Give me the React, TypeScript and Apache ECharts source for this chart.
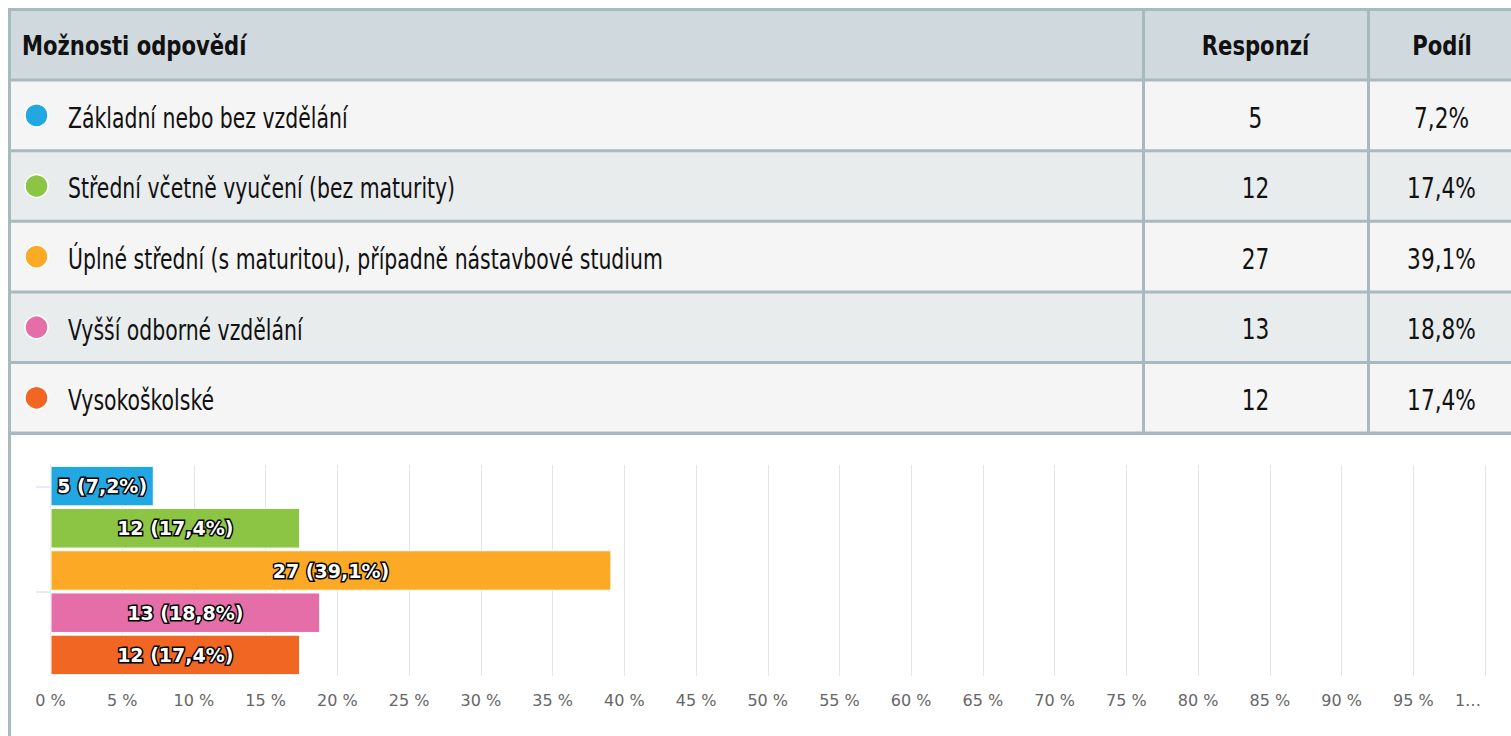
import React, { useEffect, useRef } from "react";
import * as echarts from "echarts";

const categories = [
  "Základní nebo bez vzdělání",
  "Střední včetně vyučení (bez maturity)",
  "Úplné střední (s maturitou), případně nástavbové studium",
  "Vyšší odborné vzdělání",
  "Vysokoškolské",
];
const responses = [5, 12, 27, 13, 12];
const shares = [7.2, 17.4, 39.1, 18.8, 17.4];
const colors = ["#21a7e1", "#8bc543", "#fcaa25", "#e56ea9", "#f26623"];
const headers = ["Možnosti odpovědí", "Responzí", "Podíl"];

const fmtShare = (v: number) => v.toFixed(1).replace(".", ",") + "%";

const TABLE_FONT = "'DejaVu Sans Condensed', 'DejaVu Sans', sans-serif";

export default function App() {
  const ref = useRef<HTMLDivElement>(null);
  useEffect(() => {
    if (!ref.current) return;
    const chart = echarts.init(ref.current, undefined, { renderer: "svg" });

    const border = "#a9b9c0";
    const pitch = 70.6;
    const top0 = 11;
    const cellH = 67.6;
    const cols = [
      { x: 11, w: 1131 },
      { x: 1145, w: 222 },
      { x: 1370, w: 160 },
    ];
    const bodyFont = `28px ${TABLE_FONT}`;
    const headFont = `bold 27px ${TABLE_FONT}`;
    const bodyScale = 0.81;
    const numScale = 0.86;
    const headScale = 0.87;
    const graphics: any[] = [];
    graphics.push({
      type: "rect",
      shape: { x: 8, y: 8, width: 1520, height: top0 + 6 * pitch - 8 + 0.4 },
      style: { fill: border },
      z: 0,
    });
    graphics.push({
      type: "rect",
      shape: { x: 8, y: 430, width: 3, height: 320 },
      style: { fill: border },
      z: 0,
    });
    for (let r = 0; r < 6; r++) {
      const y = top0 + r * pitch;
      const fill = r === 0 ? "#d0d9dd" : r % 2 === 1 ? "#f5f5f5" : "#e8eced";
      cols.forEach((c) => {
        graphics.push({
          type: "rect",
          shape: { x: c.x, y, width: c.w, height: cellH },
          style: { fill },
          z: 1,
        });
      });
      const cy = y + cellH / 2 + 2.5;
      if (r === 0) {
        const hx = [22, 1255.5, 1442];
        const al = ["left", "center", "center"];
        headers.forEach((h, k) => {
          graphics.push({
            type: "text",
            x: hx[k],
            y: cy - 1.5,
            scaleX: headScale,
            style: { text: h, font: headFont, fill: "#111", verticalAlign: "middle", align: al[k] },
            z: 3,
          });
        });
      } else {
        const i = r - 1;
        graphics.push({
          type: "circle",
          shape: { cx: 36.5, cy: cy - 2.5, r: 11.5 },
          style: { fill: colors[i], stroke: "#fff", lineWidth: 1.5 },
          z: 3,
        });
        graphics.push({
          type: "text",
          x: 68,
          y: cy,
          scaleX: bodyScale,
          style: { text: categories[i], font: bodyFont, fill: "#111", verticalAlign: "middle", align: "left" },
          z: 3,
        });
        graphics.push({
          type: "text",
          x: 1255.5,
          y: cy,
          scaleX: numScale,
          style: { text: String(responses[i]), font: bodyFont, fill: "#111", verticalAlign: "middle", align: "center" },
          z: 3,
        });
        graphics.push({
          type: "text",
          x: 1441.5,
          y: cy,
          scaleX: numScale,
          style: { text: fmtShare(shares[i]), font: bodyFont, fill: "#111", verticalAlign: "middle", align: "center" },
          z: 3,
        });
      }
    }
    [487, 592].forEach((ty) => {
      graphics.push({
        type: "line",
        shape: { x1: 36, y1: ty, x2: 50, y2: ty },
        style: { stroke: "#ccd6eb", lineWidth: 1 },
        z: 3,
      });
    });

    chart.setOption({
      animation: false,
      backgroundColor: "#fff",
      graphic: graphics,
      grid: { left: 50.5, right: 26, top: 465, bottom: 60 },
      xAxis: {
        type: "value",
        min: 0,
        max: 100,
        interval: 5,
        axisLine: { show: false },
        axisTick: { show: false },
        splitLine: { show: true, lineStyle: { color: "#e6e6e6", width: 1 } },
        axisLabel: {
          color: "#666",
          fontSize: 16,
          fontFamily: "DejaVu Sans",
          margin: 16,
          formatter: (v: number) => (v === 100 ? "{t|1…}" : `${v} %`),
          rich: {
            t: { color: "#666", fontSize: 16, fontFamily: "DejaVu Sans", padding: [0, 34, 0, 0] },
          },
        },
      },
      yAxis: {
        type: "category",
        data: categories,
        inverse: true,
        axisLine: { show: false },
        axisTick: { show: false },
        axisLabel: { show: false },
        splitLine: { show: false },
      },
      series: [
        {
          type: "bar",
          barCategoryGap: "4%",
          data: shares.map((v, i) => ({
            value: v,
            itemStyle: { color: colors[i] },
          })),
          itemStyle: { borderColor: "#fff", borderWidth: 1 },
          label: {
            show: true,
            position: "inside",
            formatter: (p: any) => `${responses[p.dataIndex]} (${fmtShare(shares[p.dataIndex])})`,
            color: "#fff",
            fontSize: 19,
            fontWeight: "bold",
            fontFamily: "DejaVu Sans",
            textBorderColor: "#000",
            textBorderWidth: 3,
          },
        },
      ],
    });
    return () => chart.dispose();
  }, []);
  return (
    <div
      ref={ref}
      style={{ position: "fixed", left: 0, top: 0, width: 1511, height: 736 }}
    />
  );
}
